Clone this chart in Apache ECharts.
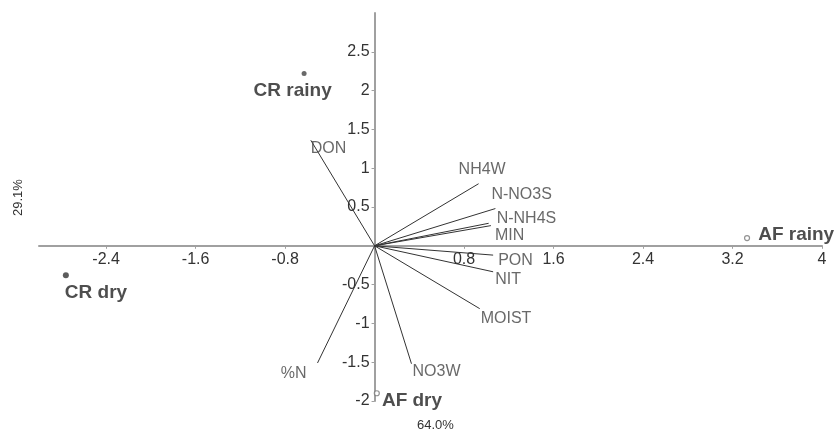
<!DOCTYPE html>
<html>
<head>
<meta charset="utf-8">
<script src="https://cdn.jsdelivr.net/npm/echarts@6/dist/echarts.min.js"></script>
<style>
  html, body { margin: 0; padding: 0; background: #fff; }
  #chart { width: 838px; height: 433px; }
</style>
</head>
<body>
<div id="chart"></div>
<script>
// sample scores (PC1, PC2)
var sampleNames = ['CR rainy', 'CR dry', 'AF rainy', 'AF dry'];
var sampleX = [-0.63, -2.76, 3.33, 0.02];
var sampleY = [2.22, -0.38, 0.10, -1.90];

// variable loadings
var varNames = ['DON', 'NH4W', 'N-NO3S', 'N-NH4S', 'MIN', 'PON', 'NIT', 'MOIST', 'NO3W', '%N'];
var varX = [-0.57, 0.93, 1.08, 1.02, 1.04, 1.06, 1.06, 0.94, 0.33, -0.51];
var varY = [1.36, 0.80, 0.48, 0.29, 0.26, -0.12, -0.335, -0.81, -1.52, -1.51];

// tick labels
var xTicks = [-2.4, -1.6, -0.8, 0.8, 1.6, 2.4, 3.2, 4];
var yTicks = [-2, -1.5, -1, -0.5, 0.5, 1, 1.5, 2, 2.5];

var xMin = -3, xMax = 4, yMin = -2, yMax = 3;

var chart = echarts.init(document.getElementById('chart'));

// label placement (pixel offsets from each point)
var varLabelPos = {
    'DON':    ['right', [0, 8]],
    'NH4W':   ['right', [-20, -14]],
    'N-NO3S': ['right', [-4, -14]],
    'N-NH4S': ['right', [8, -5]],
    'MIN':    ['right', [4, 10]],
    'PON':    ['right', [5, 5]],
    'NIT':    ['right', [2, 8]],
    'MOIST':  ['right', [1, 10]],
    'NO3W':   ['right', [1, 8]],
    '%N':     ['left', [-11, 11]]
};
var sampleLabelPos = {
    'CR rainy': [-53, 17],
    'CR dry':   [-4, 17],
    'AF rainy': [8, -3],
    'AF dry':   [2, 8]
};
var sampleStyle = {
    'CR rainy': { color: '#444', borderColor: '#444', borderWidth: 0, size: 5 },
    'CR dry':   { color: '#333', borderColor: '#333', borderWidth: 0, size: 6 },
    'AF rainy': { color: '#fff', borderColor: '#777', borderWidth: 1.2, size: 5 },
    'AF dry':   { color: '#fff', borderColor: '#777', borderWidth: 1.2, size: 5 }
};

var lineData = [];
var endData = [];
varNames.forEach(function (name, i) {
    lineData.push({ coords: [[0, 0], [varX[i], varY[i]]] });
    var p = varLabelPos[name];
    endData.push({
        value: [varX[i], varY[i]],
        name: name,
        label: { position: p[0], offset: p[1] }
    });
});

var sampleData = [];
sampleNames.forEach(function (name, i) {
    var s = sampleStyle[name];
    sampleData.push({
        value: [sampleX[i], sampleY[i]],
        name: name,
        symbolSize: s.size,
        itemStyle: { color: s.color, borderColor: s.borderColor, borderWidth: s.borderWidth },
        label: { offset: sampleLabelPos[name] }
    });
});

var fmt = function (v) { return String(Math.round(v * 10) / 10); };
var font = 'Liberation Sans, Arial, sans-serif';

var option = {
    animation: false,
    backgroundColor: '#fff',
    grid: { left: 39, right: 16, top: 13, bottom: 32, containLabel: false },
    xAxis: {
        type: 'value',
        min: xMin,
        max: xMax,
        position: 'bottom',
        splitLine: { show: false },
        axisLine: { onZero: false, lineStyle: { color: '#a0a0a0', width: 2 } },
        axisTick: { show: true, customValues: xTicks, length: 3, lineStyle: { color: '#a0a0a0' } },
        axisLabel: {
            customValues: xTicks, formatter: fmt, margin: 6,
            color: '#333', fontSize: 16, fontFamily: font
        }
    },
    yAxis: {
        type: 'value',
        min: yMin,
        max: yMax,
        position: 'left',
        splitLine: { show: false },
        axisLine: { onZero: false, lineStyle: { color: '#a0a0a0', width: 2 } },
        axisTick: { show: true, customValues: yTicks, length: 3, lineStyle: { color: '#a0a0a0' } },
        axisLabel: {
            customValues: yTicks, formatter: fmt, margin: 5,
            color: '#333', fontSize: 16, fontFamily: font
        }
    },
    graphic: [
        {
            type: 'text', left: 417, top: 419,
            style: { text: '64.0%', fill: '#333', font: '13px "Liberation Sans", Arial, sans-serif' }
        },
        {
            type: 'text', x: 12, y: 216, rotation: Math.PI / 2,
            style: { text: '29.1%', fill: '#333', font: '13px "Liberation Sans", Arial, sans-serif' }
        }
    ],
    series: [
        {
            type: 'lines',
            coordinateSystem: 'cartesian2d',
            polyline: false,
            silent: true,
            lineStyle: { color: '#333', width: 1, opacity: 1 },
            data: lineData,
            z: 3
        },
        {
            type: 'scatter',
            symbolSize: 0,
            silent: true,
            data: endData,
            label: {
                show: true,
                formatter: '{b}',
                distance: 0,
                color: '#444',
                fontSize: 16,
                fontFamily: font
            },
            z: 4
        },
        {
            type: 'scatter',
            silent: true,
            data: sampleData,
            label: {
                show: true,
                position: 'right',
                distance: 0,
                formatter: '{b}',
                color: '#222',
                fontSize: 19,
                fontWeight: 'bold',
                fontFamily: font
            },
            z: 5
        }
    ]
};

chart.setOption(option);

// move both axes (line, ticks and labels) so they cross at the origin
var origin = chart.convertToPixel({ gridIndex: 0 }, [0, 0]);
var corner = chart.convertToPixel({ gridIndex: 0 }, [xMin, yMin]);
chart.setOption({
    xAxis: { offset: -(corner[1] - origin[1]) },
    yAxis: { offset: -(origin[0] - corner[0]) }
});
</script>
</body>
</html>
